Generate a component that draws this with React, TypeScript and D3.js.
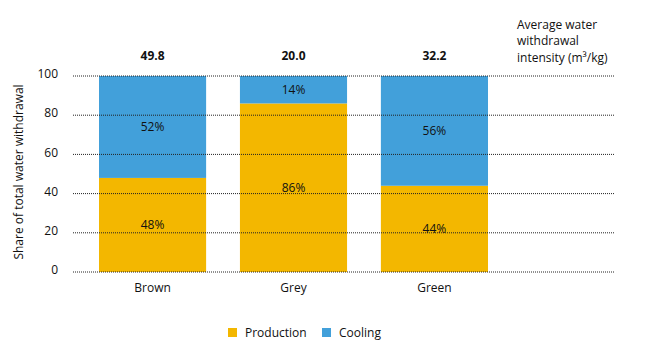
import React from "react";
import * as d3 from "d3";

const categories = ["Brown", "Grey", "Green"];
const production = [48, 86, 44];
const cooling = [52, 14, 56];
const intensity = ["49.8", "20.0", "32.2"];
const yTicks = [0, 20, 40, 60, 80, 100];
const seriesNames = ["Production", "Cooling"];
const colors = ["#F3B700", "#42A0DA"];

const W = 646, H = 345;
const FONT = "'Open Sans', 'Noto Sans', sans-serif";

export default function App() {
  const x = d3.scaleBand().domain(categories).range([99, 488]).paddingInner(0.24).paddingOuter(0);
  const y = d3.scaleLinear().domain([0, 100]).range([272, 76]);
  const stack = d3.stack<any>().keys(["production", "cooling"]);
  const rows = categories.map((c, i) => ({ cat: c, production: production[i], cooling: cooling[i] }));
  const series = stack(rows);

  return (
    <svg width={W} height={H} style={{ position: "absolute", left: 0, top: 0 }} fontFamily={FONT}>
      <rect width={W} height={H} fill="#fff" />
      {series.map((s, si) =>
        s.map((d, i) => (
          <g key={`${si}-${i}`}>
            <rect x={x(categories[i])} y={y(d[1])} width={x.bandwidth()} height={y(d[0]) - y(d[1])} fill={colors[si]} />
            <text x={(x(categories[i]) as number) + x.bandwidth() / 2} y={(y(d[0]) + y(d[1])) / 2} dy="0.35em" textAnchor="middle" fontSize={12} fill="#111">
              {`${d[1] - d[0]}%`}
            </text>
          </g>
        ))
      )}
      {yTicks.map((t) => (
        <g key={t}>
          <line x1={73} x2={615} y1={y(t)} y2={y(t)} stroke="#222" strokeWidth={1} strokeDasharray="1,1" />
          <text x={58} y={y(t) - 2} dy="0.35em" textAnchor="end" fontSize={12} fill="#111">{t}</text>
        </g>
      ))}
      {categories.map((c, i) => (
        <g key={c}>
          <text x={(x(c) as number) + x.bandwidth() / 2} y={288} dy="0.35em" textAnchor="middle" fontSize={12} fill="#111">{c}</text>
          <text x={(x(c) as number) + x.bandwidth() / 2} y={56} dy="0.35em" textAnchor="middle" fontSize={12} fontWeight="bold" fill="#111">{intensity[i]}</text>
        </g>
      ))}
      <text transform={`translate(19,172) rotate(-90)`} textAnchor="middle" dy="0.35em" fontSize={12} fill="#111">Share of total water withdrawal</text>
      <text x={517} y={25} dy="0.35em" fontSize={12} fill="#111">Average water</text>
      <text x={517} y={41} dy="0.35em" fontSize={12} fill="#111">withdrawal</text>
      <text x={517} y={58} dy="0.35em" fontSize={12} fill="#111">intensity (m³/kg)</text>
      {seriesNames.map((n, i) => {
        const lx = [228, 322][i];
        return (
          <g key={n}>
            <rect x={lx} y={328} width={9} height={9} fill={colors[i]} />
            <text x={lx + 17} y={332.5} dy="0.35em" fontSize={12} fill="#111">{n}</text>
          </g>
        );
      })}
    </svg>
  );
}
